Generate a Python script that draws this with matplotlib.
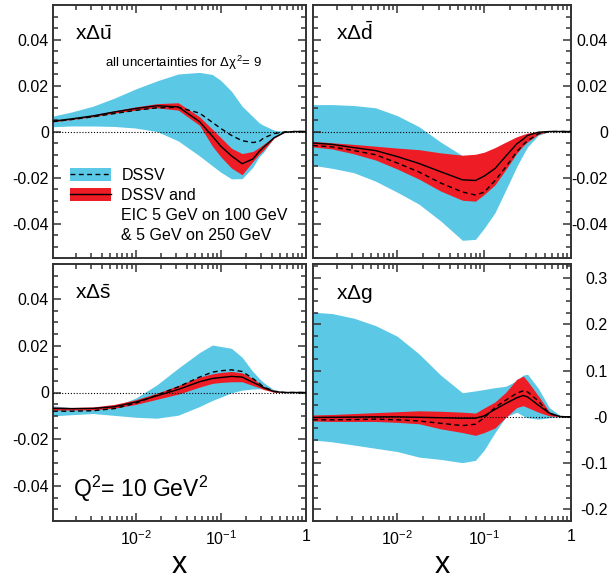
import numpy as np
import matplotlib
matplotlib.use("Agg")
import matplotlib.pyplot as plt
from matplotlib.patches import Patch
from matplotlib.lines import Line2D
from matplotlib.legend_handler import HandlerTuple
from matplotlib.ticker import FixedLocator, MultipleLocator, NullFormatter

plt.rcParams['font.family'] = ['Liberation Sans', 'DejaVu Sans']
plt.rcParams['mathtext.fontset'] = 'custom'
plt.rcParams['mathtext.rm'] = 'Liberation Sans'
plt.rcParams['mathtext.it'] = 'Liberation Sans'
plt.rcParams['mathtext.sf'] = 'Liberation Sans'

# x grid (log10 x)
X_LOG = [-2.97, -2.75, -2.5, -2.25, -2.0, -1.75, -1.5, -1.25, -1.1, -1.0,
         -0.875, -0.75, -0.625, -0.55, -0.5, -0.375, -0.25, -0.125, 0.0]

# x*Delta ubar
UB_BLUE_UP = [0.0067, 0.0085, 0.0110, 0.0145, 0.0185, 0.0220, 0.0250, 0.0257, 0.0248, 0.0222,
              0.0175, 0.0110, 0.0065, 0.0038, 0.0027, 0.0006, 0.0, 0.0, 0.0]
UB_BLUE_LO = [0.0021, 0.0024, 0.0024, 0.0022, 0.0015, 0.0000, -0.0041, -0.0106, -0.0149, -0.0177,
              -0.0206, -0.0205, -0.0156, -0.0110, -0.0091, -0.0027, -0.0003, 0.0, 0.0]
UB_RED_UP = [0.0048, 0.0058, 0.0072, 0.0090, 0.0107, 0.0121, 0.0125, 0.0064, 0.0010, -0.0027,
             -0.0073, -0.0096, -0.0087, -0.0070, -0.0056, -0.0023, 0.0, 0.0, 0.0]
UB_RED_LO = [0.0042, 0.0052, 0.0064, 0.0080, 0.0093, 0.0103, 0.0093, 0.0027, -0.0063, -0.0110,
             -0.0159, -0.0188, -0.0131, -0.0099, -0.0081, -0.0029, -0.0003, 0.0, 0.0]
UB_FIT = [0.0045, 0.0055, 0.0068, 0.0085, 0.0100, 0.0112, 0.0107, 0.0043, -0.0020, -0.0064,
          -0.0106, -0.0140, -0.0120, -0.0087, -0.0069, -0.0027, -0.0003, 0.0, 0.0]
UB_DSSV = [0.0043, 0.0052, 0.0064, 0.0078, 0.0092, 0.0103, 0.0105, 0.0080, 0.0040, 0.0013,
           -0.0017, -0.0040, -0.0048, -0.0044, -0.0029, -0.0009, -0.0002, 0.0, 0.0]

# x*Delta dbar
DB_BLUE_UP = [0.0117, 0.0117, 0.0113, 0.0103, 0.0069, 0.0021, -0.0046, -0.0105, -0.0110, -0.0110,
              -0.0100, -0.0080, -0.0050, -0.0035, -0.0025, -0.0008, 0.0, 0.0, 0.0]
DB_BLUE_LO = [-0.0147, -0.0160, -0.0179, -0.0216, -0.0264, -0.0316, -0.0389, -0.0473, -0.0469, -0.0421,
              -0.0353, -0.0254, -0.0153, -0.0100, -0.0067, -0.0016, 0.0, 0.0, 0.0]
DB_RED_UP = [-0.0043, -0.0049, -0.0056, -0.0064, -0.0072, -0.0079, -0.0093, -0.0103, -0.0099, -0.0090,
             -0.0070, -0.0046, -0.0023, -0.0013, -0.0007, -0.0001, 0.0, 0.0, 0.0]
DB_RED_LO = [-0.0067, -0.0076, -0.0097, -0.0124, -0.0163, -0.0207, -0.0259, -0.0299, -0.0303, -0.0274,
             -0.0232, -0.0165, -0.0095, -0.0062, -0.0045, -0.0012, 0.0, 0.0, 0.0]
DB_FIT = [-0.0050, -0.0056, -0.0070, -0.0083, -0.0109, -0.0139, -0.0175, -0.0210, -0.0213, -0.0194,
          -0.0161, -0.0107, -0.0054, -0.0033, -0.0017, -0.0003, 0.0, 0.0, 0.0]
DB_DSSV = [-0.0061, -0.0067, -0.0083, -0.0101, -0.0137, -0.0176, -0.0224, -0.0263, -0.0276, -0.0264,
           -0.0214, -0.0154, -0.0089, -0.0057, -0.0040, -0.0010, 0.0, 0.0, 0.0]

# x*Delta sbar
SB_BLUE_UP = [-0.0057, -0.0065, -0.0068, -0.0060, -0.0024, 0.0033, 0.0104, 0.0171, 0.0203, 0.0197,
              0.0189, 0.0151, 0.0090, 0.0061, 0.0043, 0.0011, 0.0, 0.0, 0.0]
SB_BLUE_LO = [-0.0100, -0.0095, -0.0090, -0.0098, -0.0106, -0.0110, -0.0097, -0.0060, -0.0034, -0.0020,
              -0.0001, 0.0010, 0.0015, 0.0016, 0.0016, 0.0010, 0.0001, 0.0, 0.0]
SB_RED_UP = [-0.0062, -0.0064, -0.0062, -0.0051, -0.0031, -0.0003, 0.0030, 0.0066, 0.0080, 0.0086,
             0.0090, 0.0084, 0.0060, 0.0041, 0.0027, 0.0006, 0.0, 0.0, 0.0]
SB_RED_LO = [-0.0075, -0.0075, -0.0074, -0.0067, -0.0051, -0.0029, -0.0007, 0.0023, 0.0039, 0.0043,
             0.0046, 0.0046, 0.0030, 0.0021, 0.0013, 0.0001, 0.0, 0.0, 0.0]
SB_FIT = [-0.0068, -0.0069, -0.0068, -0.0061, -0.0041, -0.0014, 0.0013, 0.0046, 0.0060, 0.0064,
          0.0069, 0.0066, 0.0044, 0.0031, 0.0021, 0.0004, 0.0, 0.0, 0.0]
SB_DSSV = [-0.0080, -0.0080, -0.0078, -0.0069, -0.0046, -0.0011, 0.0024, 0.0066, 0.0087, 0.0093,
           0.0097, 0.0090, 0.0060, 0.0040, 0.0024, 0.0006, 0.0, 0.0, 0.0]

# x*Delta g
G_BLUE_UP = [0.226, 0.223, 0.213, 0.197, 0.174, 0.136, 0.090, 0.052, 0.056, 0.059,
             0.063, 0.066, 0.078, 0.090, 0.092, 0.061, 0.020, 0.003, 0.0]
G_BLUE_LO = [-0.050, -0.054, -0.061, -0.068, -0.075, -0.087, -0.092, -0.099, -0.094, -0.072,
             -0.034, 0.000, 0.010, 0.002, -0.002, -0.005, -0.002, 0.0, 0.0]
G_RED_UP = [0.004, 0.005, 0.007, 0.009, 0.011, 0.013, 0.012, 0.010, 0.008, 0.019,
            0.032, 0.053, 0.081, 0.088, 0.077, 0.045, 0.011, 0.0, 0.0]
G_RED_LO = [-0.009, -0.010, -0.010, -0.010, -0.012, -0.015, -0.026, -0.034, -0.040, -0.034,
            -0.024, -0.001, 0.020, 0.024, 0.020, 0.010, 0.002, 0.0, 0.0]
G_FIT = [-0.0015, -0.001, -0.0005, 0.0, 0.0, -0.001, -0.002, -0.003, -0.003, 0.002,
         0.016, 0.029, 0.041, 0.046, 0.043, 0.025, 0.008, 0.0005, 0.0]
G_DSSV = [-0.0065, -0.0065, -0.006, -0.005, -0.0065, -0.009, -0.014, -0.019, -0.016, -0.002,
          0.020, 0.036, 0.051, 0.056, 0.054, 0.034, 0.007, 0.0005, 0.0]

XTICKS = [0.01, 0.1, 1.0]
XTICK_LABELS = [r'$10^{-2}$', r'$10^{-1}$', '1']
Q_TICKS = [-0.04, -0.02, 0.0, 0.02, 0.04]
Q_TICK_LABELS = ['-0.04', '-0.02', '0', '0.02', '0.04']
G_TICKS = [-0.2, -0.1, 0.0, 0.1, 0.2, 0.3]
G_TICK_LABELS = ['-0.2', '-0.1', '-0', '0.1', '0.2', '0.3']

BLUE = '#5BC8E6'
RED = '#EE1C25'
FRAME = '#333333'

W, H = 615, 580


def box(l, t, r, b):
    return [l / W, 1 - b / H, (r - l) / W, (b - t) / H]


fig = plt.figure(figsize=(W / 100, H / 100), dpi=100)
ax_u = fig.add_axes(box(53, 5, 306, 258))
ax_d = fig.add_axes(box(313, 5, 571, 258))
ax_s = fig.add_axes(box(53, 264, 306, 521))
ax_g = fig.add_axes(box(313, 264, 571, 521))

x = 10 ** np.array(X_LOG)

panels = [
    (ax_u, UB_BLUE_UP, UB_BLUE_LO, UB_RED_UP, UB_RED_LO, UB_FIT, UB_DSSV, r'x$\Delta\bar{u}$'),
    (ax_d, DB_BLUE_UP, DB_BLUE_LO, DB_RED_UP, DB_RED_LO, DB_FIT, DB_DSSV, r'x$\Delta\bar{d}$'),
    (ax_s, SB_BLUE_UP, SB_BLUE_LO, SB_RED_UP, SB_RED_LO, SB_FIT, SB_DSSV, r'x$\Delta\bar{s}$'),
    (ax_g, G_BLUE_UP, G_BLUE_LO, G_RED_UP, G_RED_LO, G_FIT, G_DSSV, r'x$\Delta$g'),
]

minor_x = [s * 10.0 ** e for e in (-3, -2, -1) for s in range(2, 10)]

for ax, bup, blo, rup, rlo, fit, dssv, name in panels:
    ax.fill_between(x, blo, bup, color=BLUE, lw=0, zorder=1)
    ax.fill_between(x, rlo, rup, color=RED, lw=0, zorder=2)
    ax.plot(x, dssv, color='k', lw=1.0, ls=(0, (3.5, 2.5)), zorder=3)
    ax.plot(x, fit, color='k', lw=1.0, zorder=4)
    ax.axhline(0, color='k', lw=0.8, ls=(0, (1, 1.6)), zorder=5)

    ax.set_xscale('log')
    ax.set_xlim(10 ** -2.97, 1.0)
    ax.xaxis.set_major_locator(FixedLocator(XTICKS))
    ax.xaxis.set_minor_locator(FixedLocator(minor_x))
    ax.xaxis.set_minor_formatter(NullFormatter())
    ax.set_xticks(XTICKS, XTICK_LABELS)

    if ax is ax_g:
        ax.set_ylim(-0.225, 0.33)
        ax.set_yticks(G_TICKS, G_TICK_LABELS)
        ax.yaxis.set_minor_locator(MultipleLocator(0.025))
    else:
        ax.set_ylim(-0.055, 0.055)
        ax.set_yticks(Q_TICKS, Q_TICK_LABELS)
        ax.yaxis.set_minor_locator(MultipleLocator(0.005))

    for sp in ax.spines.values():
        sp.set_linewidth(1.4)
        sp.set_color(FRAME)
    ax.tick_params(which='both', direction='in', top=True, right=True,
                   color=FRAME, width=1.1, labelsize=11.5)
    ax.tick_params(which='major', length=6)
    ax.tick_params(which='minor', length=3.5)
    ax.tick_params(axis='x', which='major', pad=6)

    ax.text(0.088, 0.862, name, transform=ax.transAxes, fontsize=15,
            ha='left', va='baseline', zorder=6)

for ax in (ax_u, ax_d):
    ax.tick_params(axis='x', labelbottom=False)

for ax in (ax_u, ax_s):
    ax.tick_params(axis='y', which='major', pad=3, labelleft=True, labelright=False)

for ax in (ax_d, ax_g):
    ax.tick_params(axis='y', which='major', pad=26.5, labelleft=False, labelright=True)
    for t in ax.yaxis.get_major_ticks():
        t.label2.set_horizontalalignment('right')

for ax in (ax_s, ax_g):
    ax.set_xlabel('x', fontsize=22)
    ax.xaxis.set_label_coords(0.5, -0.204)
    ax.xaxis.label.set_va('baseline')

ax_u.text(0.206, 0.756, r'all uncertainties for $\Delta\chi^2$= 9',
          transform=ax_u.transAxes, fontsize=9.5, ha='left', va='baseline')
ax_s.text(0.079, 0.095, r'Q$^2$= 10 GeV$^2$', transform=ax_s.transAxes,
          fontsize=16.5, ha='left', va='baseline')

h_dssv = (Patch(facecolor=BLUE, edgecolor='none'),
          Line2D([], [], color='k', lw=1.0, ls=(0, (3.5, 2.5))))
h_eic = (Patch(facecolor=RED, edgecolor='none'),
         Line2D([], [], color='k', lw=1.0))
h_none = Patch(facecolor='none', edgecolor='none')
ax_u.legend([h_dssv, h_eic, h_none, h_none],
            ['DSSV', 'DSSV and', 'EIC 5 GeV on 100 GeV', '& 5 GeV on 250 GeV'],
            loc='upper left', bbox_to_anchor=(0.067, 0.357), frameon=False,
            fontsize=11.5, handlelength=2.6, handleheight=0.9, handletextpad=0.62,
            labelspacing=0.3, borderpad=0, borderaxespad=0,
            handler_map={tuple: HandlerTuple(ndivide=1)})

fig.savefig('out.png', dpi=100)
